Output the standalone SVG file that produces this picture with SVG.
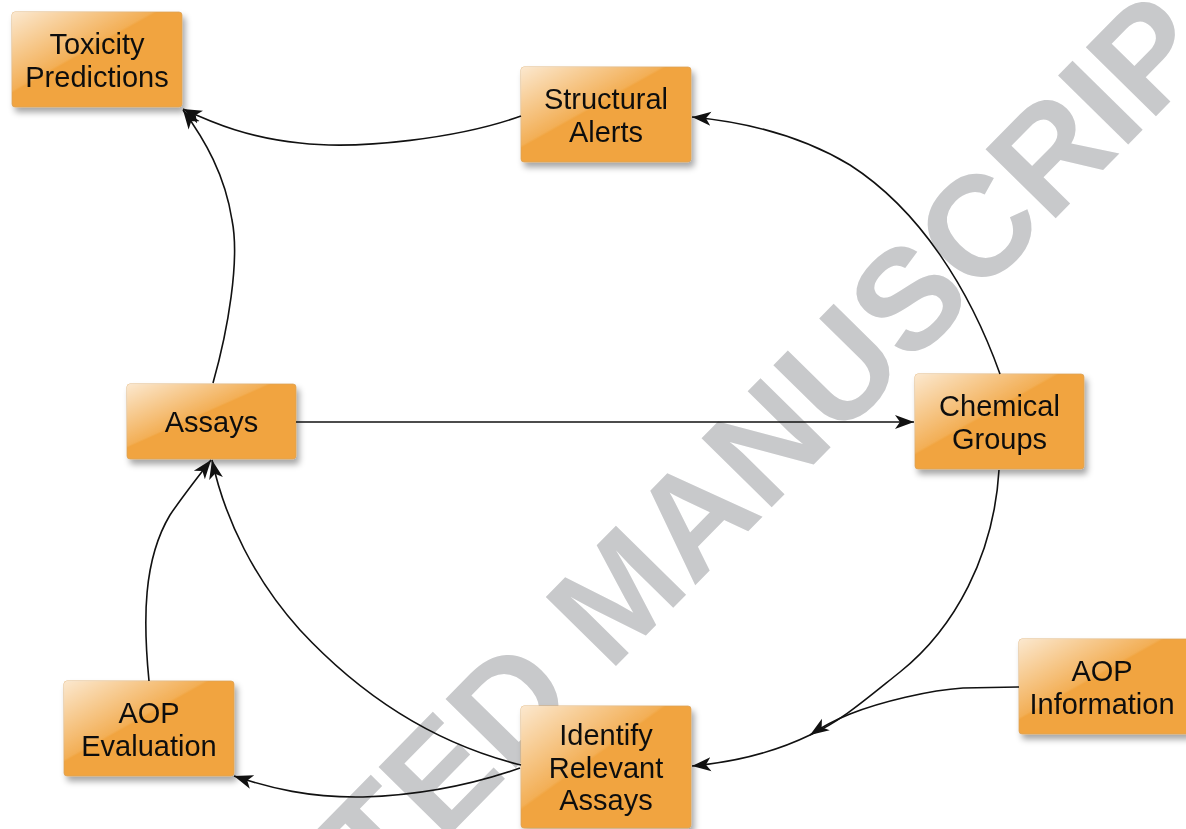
<svg xmlns="http://www.w3.org/2000/svg" width="1186" height="829" viewBox="0 0 1186 829">
<style>
.box{fill:#f1a43f;stroke:#dca35a;stroke-width:0.8}
.gloss{fill:url(#gloss)}
.lbl{font-family:"Liberation Sans",Arial,sans-serif;font-size:29px;fill:#111;text-anchor:middle}
.wm{font-family:"Liberation Sans",Arial,sans-serif;font-size:143px;font-weight:bold;fill:#c8c9cb}
.edge{fill:none;stroke:#111;stroke-width:1.6;marker-end:url(#arr)}
</style>
<defs>
<linearGradient id="gloss" x1="0" y1="0" x2="0.75" y2="0.75">
<stop offset="0" stop-color="#fff" stop-opacity="0.75"/>
<stop offset="0.55" stop-color="#fff" stop-opacity="0.12"/>
<stop offset="0.57" stop-color="#fff" stop-opacity="0"/>
</linearGradient>
<filter id="sh" x="-10%" y="-10%" width="130%" height="140%">
<feDropShadow dx="3" dy="5" stdDeviation="3" flood-color="#000" flood-opacity="0.35"/>
</filter>
<marker id="arr" markerUnits="userSpaceOnUse" markerWidth="20" markerHeight="16" refX="19" refY="7" orient="auto" viewBox="0 0 20 14">
<path d="M0,0 L19,7 L0,14 L5,7 z" fill="#111"/>
</marker>
</defs>
<rect width="1186" height="829" fill="#fff"/>
<text class="wm" transform="translate(30,1262) rotate(-45.5)">ACCEPTED MANUSCRIPT</text>

<g id="n-toxicity" filter="url(#sh)">
<rect class="box" x="12" y="12" width="170" height="95" rx="3"/>
<rect class="gloss" x="12" y="12" width="170" height="95" rx="3"/>
<text class="lbl" x="97" y="54">Toxicity</text>
<text class="lbl" x="97" y="87">Predictions</text>
</g>
<g id="n-structural" filter="url(#sh)">
<rect class="box" x="521" y="67" width="170" height="95" rx="3"/>
<rect class="gloss" x="521" y="67" width="170" height="95" rx="3"/>
<text class="lbl" x="606" y="108.5">Structural</text>
<text class="lbl" x="606" y="141.5">Alerts</text>
</g>
<g id="n-assays" filter="url(#sh)">
<rect class="box" x="127" y="384" width="169" height="75" rx="3"/>
<rect class="gloss" x="127" y="384" width="169" height="75" rx="3"/>
<text class="lbl" x="211.5" y="432">Assays</text>
</g>
<g id="n-chemical" filter="url(#sh)">
<rect class="box" x="915" y="374" width="169" height="95" rx="3"/>
<rect class="gloss" x="915" y="374" width="169" height="95" rx="3"/>
<text class="lbl" x="999.5" y="415.5">Chemical</text>
<text class="lbl" x="999.5" y="448.5">Groups</text>
</g>
<g id="n-aopinfo" filter="url(#sh)">
<rect class="box" x="1019" y="639" width="170" height="95" rx="3"/>
<rect class="gloss" x="1019" y="639" width="170" height="95" rx="3"/>
<text class="lbl" x="1102" y="680.5">AOP</text>
<text class="lbl" x="1102" y="713.5">Information</text>
</g>
<g id="n-aopeval" filter="url(#sh)">
<rect class="box" x="64" y="681" width="170" height="95" rx="3"/>
<rect class="gloss" x="64" y="681" width="170" height="95" rx="3"/>
<text class="lbl" x="149" y="722.5">AOP</text>
<text class="lbl" x="149" y="755.5">Evaluation</text>
</g>
<g id="n-identify" filter="url(#sh)">
<rect class="box" x="521" y="706" width="170" height="122" rx="3"/>
<rect class="gloss" x="521" y="706" width="170" height="122" rx="3"/>
<text class="lbl" x="606" y="745">Identify</text>
<text class="lbl" x="606" y="777.5">Relevant</text>
<text class="lbl" x="606" y="810">Assays</text>
</g>

<g id="connectors">
<path class="edge" d="M521,116 C460,138 360,150 300,143 C250,138 215,124 183,109"/>
<path class="edge" d="M213,383 C228,330 240,260 232,220 C225,175 205,140 183,110"/>
<path class="edge" d="M1000,374 C970,290 920,210 850,165 C800,135 745,122 692,117"/>
<path class="edge" d="M296,422 L914,422"/>
<path class="edge" d="M999,470 C994,555 955,628 900,672 C865,700 840,722 810,735 C775,752 735,762 692,766"/>
<path class="edge" d="M1019,687 L963,688 C930,690 880,702 850,714 C835,720 822,727 810,735"/>
<path class="edge" d="M521,765 C440,745 365,700 300,630 C255,580 225,520 212,460"/>
<path class="edge" d="M149,681 C143,620 143,560 170,515 C182,497 197,478 211,460"/>
<path class="edge" d="M520,768 C480,782 430,795 363,797 C310,798 270,788 234,776"/>
</g>
</svg>
